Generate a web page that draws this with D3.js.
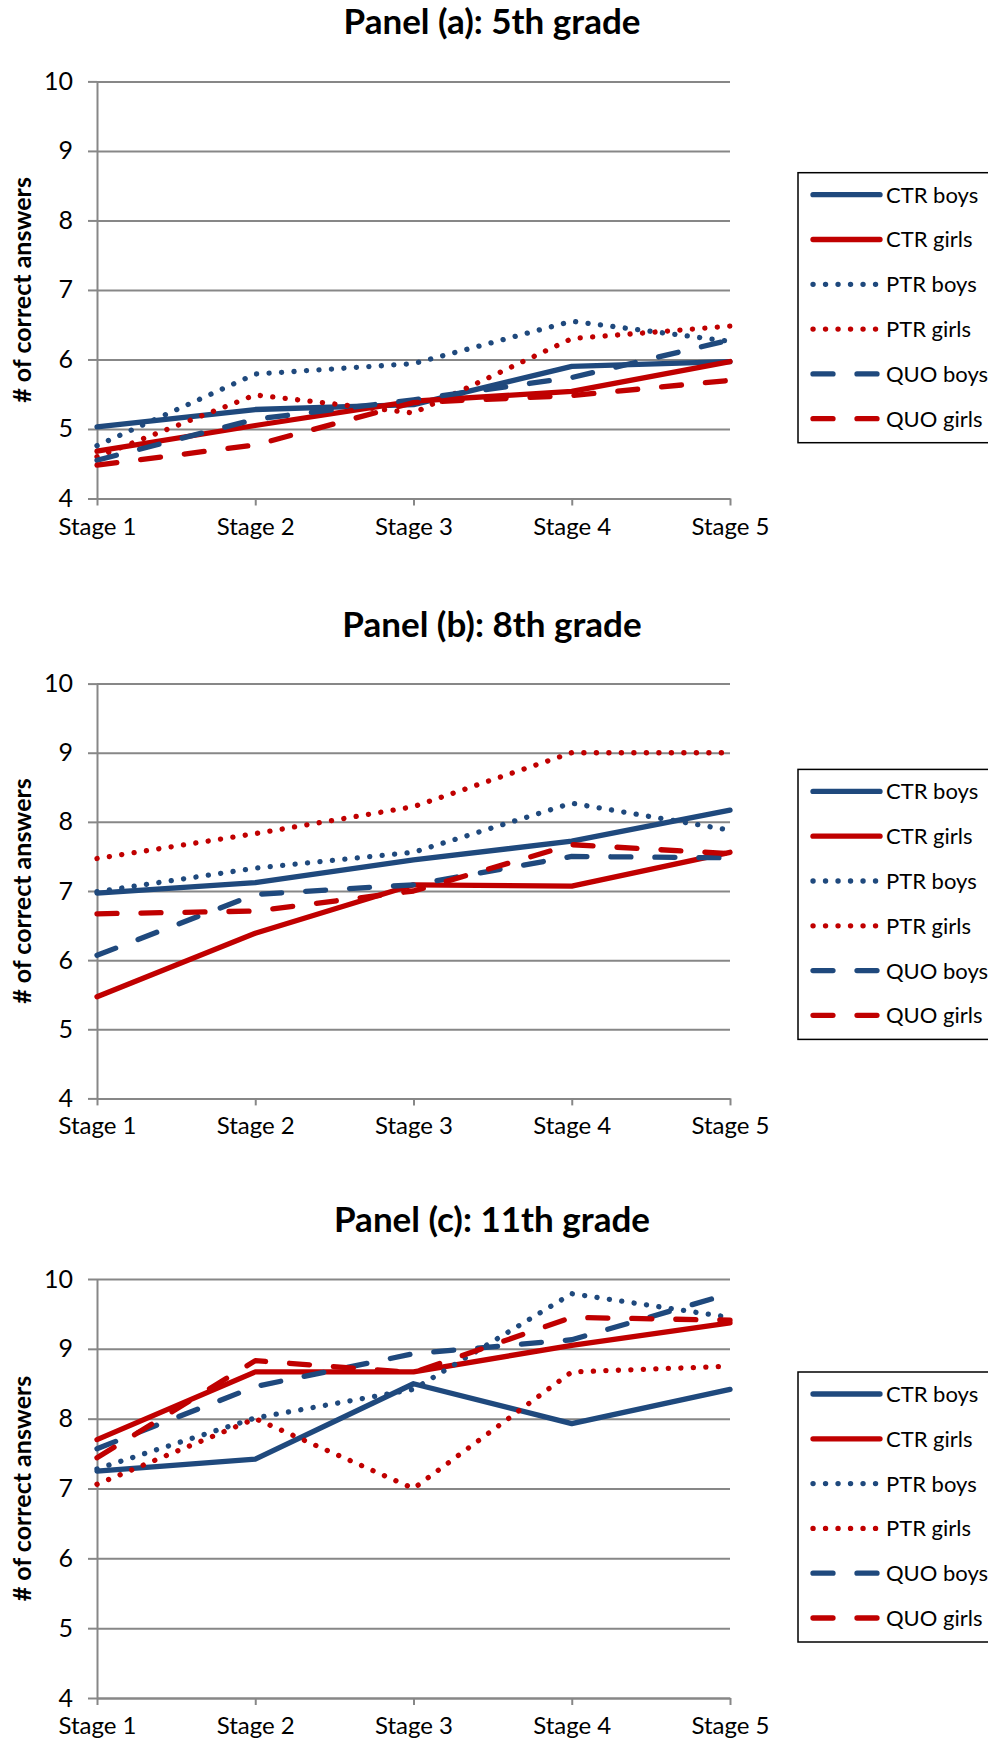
<!DOCTYPE html>
<html>
<head>
<meta charset="utf-8">
<script src="https://cdn.jsdelivr.net/npm/d3@7"></script>
<style>
  body { margin: 0; background: #fff; }
  svg { display: block; }
  text { font-family: Lato, "Open Sans", sans-serif; fill: #000; }
</style>
</head>
<body>
<script>
// categories and labels
var stages = ["Stage 1", "Stage 2", "Stage 3", "Stage 4", "Stage 5"];
var seriesNames = ["CTR boys", "CTR girls", "PTR boys", "PTR girls", "QUO boys", "QUO girls"];
var panelTitles = ["Panel (a): 5th grade", "Panel (b): 8th grade", "Panel (c): 11th grade"];
var yTicks = [4, 5, 6, 7, 8, 9, 10];
var yLabel = "# of correct answers";

// 5th grade
var grade5CtrBoys  = [5.03, 5.28, 5.35, 5.90, 5.97];
var grade5CtrGirls = [4.68, 5.05, 5.40, 5.54, 5.97];
var grade5PtrBoys  = [4.76, 5.79, 5.94, 6.55, 6.26];
var grade5PtrGirls = [4.60, 5.49, 5.23, 6.30, 6.48];
var grade5QuoBoys  = [4.55, 5.14, 5.42, 5.74, 6.28];
var grade5QuoGirls = [4.48, 4.77, 5.38, 5.48, 5.70];

// 8th grade
var grade8CtrBoys  = [6.97, 7.12, 7.45, 7.72, 8.17];
var grade8CtrGirls = [5.47, 6.39, 7.09, 7.07, 7.56];
var grade8PtrBoys  = [6.99, 7.33, 7.56, 8.27, 7.88];
var grade8PtrGirls = [7.47, 7.83, 8.22, 9.00, 9.00];
var grade8QuoBoys  = [6.07, 6.95, 7.09, 7.50, 7.48];
var grade8QuoGirls = [6.67, 6.71, 7.00, 7.67, 7.54];

// 11th grade
var grade11CtrBoys  = [7.25, 7.42, 8.50, 7.93, 8.42];
var grade11CtrGirls = [7.70, 8.67, 8.67, 9.05, 9.37];
var grade11PtrBoys  = [7.28, 8.01, 8.42, 9.79, 9.45];
var grade11PtrGirls = [7.06, 8.00, 7.00, 8.67, 8.75];
var grade11QuoBoys  = [7.57, 8.46, 8.93, 9.13, 9.79];
var grade11QuoGirls = [7.44, 8.83, 8.66, 9.45, 9.41];

var panelData = [
  [grade5CtrBoys, grade5CtrGirls, grade5PtrBoys, grade5PtrGirls, grade5QuoBoys, grade5QuoGirls],
  [grade8CtrBoys, grade8CtrGirls, grade8PtrBoys, grade8PtrGirls, grade8QuoBoys, grade8QuoGirls],
  [grade11CtrBoys, grade11CtrGirls, grade11PtrBoys, grade11PtrGirls, grade11QuoBoys, grade11QuoGirls]
];

// styles
var blue = "#1F497D", red = "#C00000", gridColor = "#878787";
var seriesColor = [blue, red, blue, red, blue, red];
var seriesDash = [null, null, "0.1 12.4", "0.1 12.4", "20 24", "20 24"];
var lineWidth = 5.3;

// layout of the three panels
var plotLeft = 97, plotRight = 730;
var panelLayout = [
  { top: 81.4, bottom: 498.5, legendTop: 172.7 },
  { top: 683.6, bottom: 1098.4, legendTop: 769.4 },
  { top: 1279, bottom: 1698, legendTop: 1372 }
];

var svg = d3.select("body").append("svg")
    .attr("width", 988)
    .attr("height", 1748);

var x = d3.scalePoint()
    .domain(stages)
    .range([plotLeft, plotRight]);

panelLayout.forEach(function(p, pi) {

  var y = d3.scaleLinear()
      .domain([4, 10])
      .range([p.bottom, p.top]);

  var g = svg.append("g").attr("class", "panel");

  // title
  g.append("text")
    .attr("x", 492)
    .attr("y", p.top - 47)
    .attr("text-anchor", "middle")
    .style("font-weight", "bold")
    .style("font-size", "35px")
    .text(panelTitles[pi]);

  // gridlines
  g.append("g")
    .attr("transform", "translate(" + plotLeft + ",0)")
    .call(d3.axisLeft(y).tickValues(yTicks).tickSize(-(plotRight - plotLeft)).tickFormat(""))
    .call(function(a) { a.select(".domain").remove(); })
    .selectAll("line")
    .attr("stroke", gridColor)
    .attr("stroke-width", 2);

  // y axis with outer ticks
  var yAxis = g.append("g")
    .attr("transform", "translate(" + plotLeft + ",0)")
    .call(d3.axisLeft(y).tickValues(yTicks).tickFormat(d3.format("d"))
      .tickSize(9).tickSizeOuter(0).tickPadding(15));
  yAxis.select(".domain").attr("stroke", gridColor).attr("stroke-width", 2);
  yAxis.selectAll(".tick line").attr("stroke", gridColor).attr("stroke-width", 2);
  yAxis.selectAll(".tick text")
    .style("font-family", "Lato, sans-serif")
    .style("font-size", "25px")
    .attr("fill", "#000");

  // x axis
  var xAxis = g.append("g")
    .attr("transform", "translate(0," + p.bottom + ")")
    .call(d3.axisBottom(x).tickSize(7).tickSizeOuter(0).tickPadding(12));
  xAxis.select(".domain").attr("stroke", gridColor).attr("stroke-width", 2);
  xAxis.selectAll(".tick line").attr("stroke", gridColor).attr("stroke-width", 2);
  xAxis.selectAll(".tick text")
    .style("font-family", "Lato, sans-serif")
    .style("font-size", "24px")
    .attr("fill", "#000");

  // y axis title
  g.append("text")
    .attr("transform", "translate(22," + (p.top + p.bottom) / 2 + ") rotate(-90)")
    .attr("text-anchor", "middle")
    .attr("dy", "0.35em")
    .style("font-weight", "bold")
    .style("font-size", "25px")
    .text(yLabel);

  // series lines
  var line = d3.line()
    .x(function(d, i) { return x(stages[i]); })
    .y(function(d) { return y(d); });

  panelData[pi].forEach(function(values, si) {
    g.append("path")
      .datum(values)
      .attr("fill", "none")
      .attr("stroke", seriesColor[si])
      .attr("stroke-width", lineWidth)
      .attr("stroke-linecap", "round")
      .attr("stroke-linejoin", "round")
      .attr("stroke-dasharray", seriesDash[si])
      .attr("d", line);
  });

  // legend
  var legend = g.append("g")
    .attr("transform", "translate(798," + p.legendTop + ")");

  legend.append("rect")
    .attr("x", 0)
    .attr("y", 0)
    .attr("width", 200)
    .attr("height", 270)
    .attr("fill", "#fff")
    .attr("stroke", "#000")
    .attr("stroke-width", 1.5);

  var items = legend.selectAll(".item")
    .data(seriesNames)
    .enter().append("g")
    .attr("class", "item")
    .attr("transform", function(d, i) { return "translate(0," + (22 + i * 44.8) + ")"; });

  items.append("line")
    .attr("x1", 15)
    .attr("x2", 82)
    .attr("stroke", function(d, i) { return seriesColor[i]; })
    .attr("stroke-width", lineWidth)
    .attr("stroke-linecap", "round")
    .attr("stroke-dasharray", function(d, i) { return seriesDash[i]; });

  items.append("text")
    .attr("x", 88)
    .attr("dy", "0.36em")
    .style("font-size", "22px")
    .text(function(d) { return d; });
});
</script>
</body>
</html>
